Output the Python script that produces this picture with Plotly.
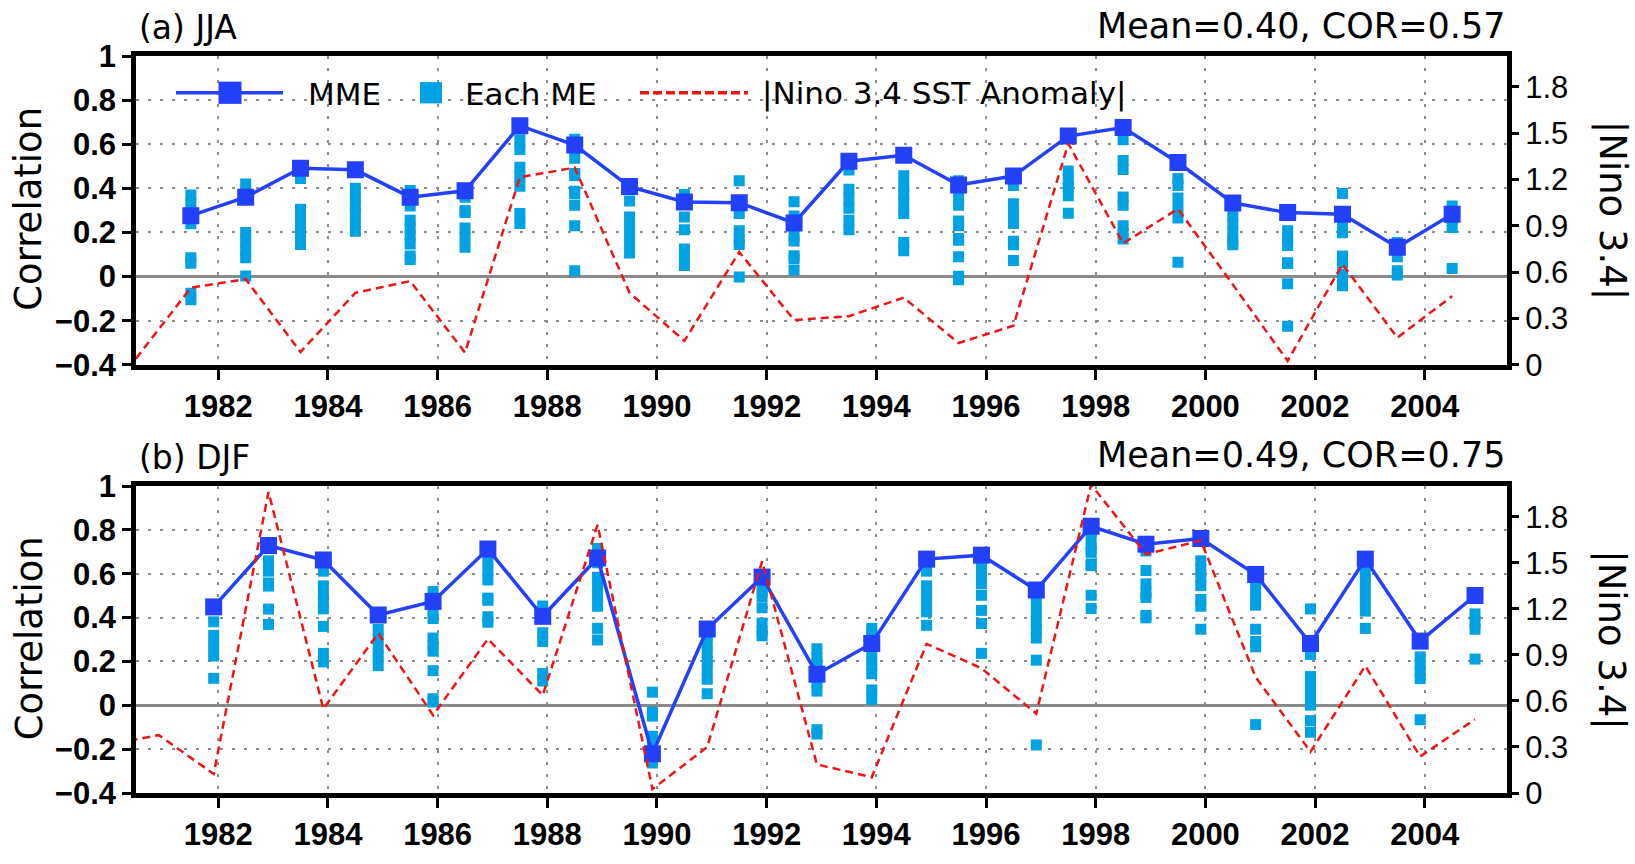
import plotly.graph_objects as go

# ---------------- (a) JJA ----------------
jja_years = list(range(1981, 2005))
jja_mme = [0.276, 0.36, 0.491, 0.484, 0.36, 0.389, 0.684, 0.596, 0.408, 0.338, 0.335, 0.243,
           0.523, 0.55, 0.415, 0.456, 0.637, 0.676, 0.517, 0.334, 0.29, 0.283, 0.133, 0.283]
jja_members = [
    [0.37, 0.33, 0.29, 0.24, 0.085, 0.06, -0.075, -0.105],
    [0.42, 0.38, 0.2, 0.16, 0.12, 0.085, 0.003],
    [0.47, 0.445, 0.305, 0.265, 0.225, 0.185, 0.145],
    [0.40, 0.36, 0.32, 0.285, 0.245, 0.205],
    [0.39, 0.35, 0.32, 0.255, 0.22, 0.185, 0.148, 0.093, 0.078],
    [0.36, 0.30, 0.29, 0.22, 0.177, 0.133],
    [0.62, 0.576, 0.496, 0.453, 0.41, 0.286, 0.241],
    [0.623, 0.537, 0.467, 0.458, 0.387, 0.375, 0.323, 0.23, 0.027],
    [0.343, 0.27, 0.23, 0.19, 0.148, 0.107],
    [0.372, 0.27, 0.212, 0.125, 0.088, 0.05],
    [0.435, 0.286, 0.208, 0.165, 0.146, -0.002],
    [0.339, 0.275, 0.185, 0.161, 0.094, 0.082, 0.03],
    [0.483, 0.396, 0.353, 0.31, 0.255, 0.212],
    [0.457, 0.41, 0.37, 0.33, 0.286, 0.155, 0.117],
    [0.435, 0.355, 0.323, 0.252, 0.23, 0.173, 0.165, 0.09, 0.002, -0.014],
    [0.413, 0.33, 0.285, 0.241, 0.16, 0.144, 0.073],
    [0.479, 0.44, 0.405, 0.367, 0.287],
    [0.62, 0.526, 0.485, 0.361, 0.323, 0.23, 0.195, 0.17],
    [0.445, 0.413, 0.356, 0.31, 0.266, 0.065],
    [0.32, 0.28, 0.24, 0.2, 0.16, 0.144],
    [0.208, 0.17, 0.141, 0.063, 0.059, -0.032, -0.225],
    [0.377, 0.26, 0.23, 0.199, 0.093, 0.063, 0.011, -0.02, -0.042],
    [0.154, 0.09, 0.027, 0.007],
    [0.32, 0.28, 0.26, 0.222, 0.037],
]
jja_nino_years = list(range(1980, 2005))
jja_nino = [0.04, 0.50, 0.555, 0.083, 0.466, 0.542, 0.079, 1.215, 1.277, 0.466, 0.155, 0.731, 0.29,
            0.315, 0.435, 0.141, 0.253, 1.433, 0.787, 1.01, 0.52, 0.025, 0.652, 0.176, 0.445]

# ---------------- (b) DJF ----------------
djf_years = list(range(1982, 2006))
djf_mme = [0.449, 0.729, 0.663, 0.412, 0.474, 0.713, 0.406, 0.672, -0.221, 0.348, 0.585, 0.142,
           0.282, 0.667, 0.685, 0.526, 0.817, 0.735, 0.761, 0.597, 0.282, 0.667, 0.293, 0.501]
djf_members = [
    [0.381, 0.319, 0.272, 0.225, 0.123],
    [0.659, 0.612, 0.558, 0.544, 0.439, 0.369],
    [0.612, 0.545, 0.505, 0.47, 0.44, 0.36, 0.237, 0.198],
    [0.346, 0.305, 0.265, 0.222, 0.181],
    [0.519, 0.43, 0.396, 0.307, 0.275, 0.247, 0.158, 0.03, 0.015],
    [0.66, 0.615, 0.572, 0.489, 0.479, 0.404, 0.379],
    [0.453, 0.331, 0.291, 0.145, 0.111],
    [0.716, 0.65, 0.584, 0.54, 0.495, 0.452, 0.351, 0.298],
    [0.06, -0.03, -0.049, -0.141, -0.161, -0.21, -0.263],
    [0.32, 0.28, 0.24, 0.2, 0.16, 0.119, 0.053],
    [0.53, 0.496, 0.445, 0.375, 0.335, 0.317],
    [0.258, 0.215, 0.19, 0.1, 0.065, -0.111, -0.131],
    [0.351, 0.32, 0.23, 0.185, 0.144, 0.07, 0.027],
    [0.612, 0.545, 0.5, 0.46, 0.426, 0.365],
    [0.624, 0.59, 0.555, 0.502, 0.433, 0.373, 0.237],
    [0.466, 0.425, 0.385, 0.345, 0.307, 0.206, -0.181],
    [0.756, 0.715, 0.698, 0.645, 0.637, 0.502, 0.442],
    [0.704, 0.615, 0.554, 0.513, 0.492, 0.41, 0.399],
    [0.659, 0.62, 0.583, 0.546, 0.483, 0.452, 0.347],
    [0.54, 0.495, 0.457, 0.347, 0.291, 0.267, -0.088],
    [0.44, 0.232, 0.131, 0.09, 0.045, 0.001, -0.07, -0.123],
    [0.61, 0.565, 0.52, 0.475, 0.43, 0.351],
    [0.221, 0.185, 0.155, 0.122, -0.066],
    [0.417, 0.38, 0.347, 0.211],
]
djf_nino_years = list(range(1980, 2006))
djf_nino = [0.31, 0.377, 0.124, 1.962, 0.548, 1.041, 0.507, 1.004, 0.637, 1.748, 0.025, 0.30, 1.51,
            0.186, 0.103, 0.972, 0.813, 0.517, 2.01, 1.556, 1.645, 0.755, 0.269, 0.828, 0.238, 0.48]

stats_labels = ["Mean=0.40, COR=0.57", "Mean=0.49, COR=0.75"]
panel_labels = ["(a) JJA", "(b) DJF"]

corr_ticks = [-0.4, -0.2, 0, 0.2, 0.4, 0.6, 0.8, 1]
corr_text = ["\u22120.4", "\u22120.2", "0", "0.2", "0.4", "0.6", "0.8", "1"]
nino_ticks = [0, 0.3, 0.6, 0.9, 1.2, 1.5, 1.8]
nino_text = ["0", "0.3", "0.6", "0.9", "1.2", "1.5", "1.8"]
year_ticks = list(range(1982, 2005, 2))

# time coordinate: JJA centred on July, DJF centred on December of the preceding year
def jja_time(y):
    return y + 0.5

def djf_time(y):
    return y - 1.0 / 12.0

CYAN = "#00a2e4"
BLUE = "#2340fb"
RED = "#f01414"

W, H = 1635, 864
ML, MR, MT, MB = 136, 128, 56, 46
PW, PH = W - ML - MR, H - MT - MB

def px(x):
    return (x - ML) / PW

def py(y):
    return 1 - (y - MT) / PH

fig = go.Figure()

panels = [
    (jja_years, jja_mme, jja_members, jja_nino_years, jja_nino, jja_time, "x", "y", "y2"),
    (djf_years, djf_mme, djf_members, djf_nino_years, djf_nino, djf_time, "x2", "y3", "y4"),
]

for years, mme, members, nyears, nino, tfun, xa, ya, ya2 in panels:
    mx, my = [], []
    for yr, vals in zip(years, members):
        for v in vals:
            mx.append(tfun(yr))
            my.append(v)
    fig.add_trace(go.Scatter(x=mx, y=my, mode="markers", xaxis=xa, yaxis=ya,
                             marker=dict(symbol="square", size=11, color=CYAN),
                             showlegend=False, hoverinfo="skip"))
    fig.add_trace(go.Scatter(x=[tfun(y) for y in years], y=mme, mode="lines+markers",
                             xaxis=xa, yaxis=ya,
                             line=dict(color=BLUE, width=3.5),
                             marker=dict(symbol="square", size=17, color=BLUE),
                             showlegend=False))
    fig.add_trace(go.Scatter(x=[tfun(y) for y in nyears], y=nino, mode="lines",
                             xaxis=xa, yaxis=ya2,
                             line=dict(color=RED, width=2.5, dash="8px,5px"),
                             showlegend=False))

tick_bold = dict(family="Liberation Sans, Arial, sans-serif", size=31, color="black", weight="bold")
tick_reg = dict(family="Liberation Sans, Arial, sans-serif", size=31, color="black")
grid = dict(showgrid=True, gridcolor="#8c8c8c", gridwidth=2, griddash="3px,9px")
frame = dict(showline=True, linewidth=4.5, linecolor="black", mirror=True)

dom_a = [1 - (375.3 - MT) / PH, 1.0]
dom_b = [0.0, 1 - (500.7 - MT) / PH]

def xax(anchor):
    return dict(anchor=anchor, domain=[0, 1], range=[1980.5, 2005.5], tickmode="array",
                tickvals=year_ticks, ticktext=[str(t) for t in year_ticks],
                ticks="outside", ticklen=10, tickwidth=3, tickcolor="black",
                tickfont=tick_bold, zeroline=False, **grid, **frame)

def yax(anchor, dom):
    return dict(anchor=anchor, domain=dom, range=[-0.4, 1], tickmode="array",
                tickvals=corr_ticks, ticktext=corr_text, ticks="outside", ticklen=9,
                tickwidth=3, tickcolor="black", tickfont=tick_bold,
                zeroline=True, zerolinecolor="#8a8a8a", zerolinewidth=2.5, **grid, **frame)

def y2ax(over, anchor):
    return dict(overlaying=over, anchor=anchor, side="right", range=[0, 2], tickmode="array",
                tickvals=nino_ticks, ticktext=nino_text, ticks="outside", ticklen=11,
                tickwidth=3, tickcolor="black", tickfont=tick_reg,
                showgrid=False, zeroline=False, showline=False)

fig.update_layout(
    width=W, height=H,
    margin=dict(l=ML, r=MR, t=MT, b=MB, pad=0),
    paper_bgcolor="white", plot_bgcolor="white",
    showlegend=False,
    xaxis=xax("y"), yaxis=yax("x", dom_a), yaxis2=y2ax("y", "x"),
    xaxis2=xax("y3"), yaxis3=yax("x2", dom_b), yaxis4=y2ax("y3", "x2"),
)

txt_font = dict(family="DejaVu Sans, sans-serif", color="black")
annotations = []
shapes = []
for i, dy in enumerate([0, 444]):
    annotations.append(dict(text=panel_labels[i], x=px(137), y=py(27 + dy), xref="paper", yref="paper",
                            xanchor="left", yanchor="middle", showarrow=False,
                            font=dict(size=33, **txt_font)))
    annotations.append(dict(text=stats_labels[i], x=px(1507), y=py(25 + dy), xref="paper", yref="paper",
                            xanchor="right", yanchor="middle", showarrow=False,
                            font=dict(size=35, **txt_font)))
    annotations.append(dict(text="Correlation", x=px(29), y=py(214 + dy), xref="paper", yref="paper",
                            xanchor="center", yanchor="middle", textangle=-90, showarrow=False,
                            font=dict(size=37, **txt_font)))
    annotations.append(dict(text="|Nino 3.4|", x=px(1612), y=py(216 + dy), xref="paper", yref="paper",
                            xanchor="center", yanchor="middle", textangle=90, showarrow=False,
                            font=dict(size=37, **txt_font)))

# legend keys
LY = 94
shapes.append(dict(type="line", xref="paper", yref="paper", x0=px(176), x1=px(283), y0=py(LY), y1=py(LY),
                   line=dict(color=BLUE, width=3.5)))
shapes.append(dict(type="rect", xref="paper", yref="paper", x0=px(218.5), x1=px(241.5),
                   y0=py(LY - 11.5), y1=py(LY + 11.5), fillcolor=BLUE, line=dict(width=0)))
shapes.append(dict(type="rect", xref="paper", yref="paper", x0=px(420), x1=px(442),
                   y0=py(LY - 11), y1=py(LY + 11), fillcolor=CYAN, line=dict(width=0)))
shapes.append(dict(type="line", xref="paper", yref="paper", x0=px(640), x1=px(748), y0=py(LY), y1=py(LY),
                   line=dict(color=RED, width=3.5, dash="9px,4px")))
for label, x0 in [("MME", 306), ("Each ME", 463), ("|Nino 3.4 SST Anomaly|", 760)]:
    annotations.append(dict(text=label, x=px(x0), y=py(LY + 1), xref="paper", yref="paper",
                            xanchor="left", yanchor="middle", showarrow=False,
                            font=dict(size=31, **txt_font)))

fig.update_layout(annotations=annotations, shapes=shapes)
fig.write_html("out.html")
